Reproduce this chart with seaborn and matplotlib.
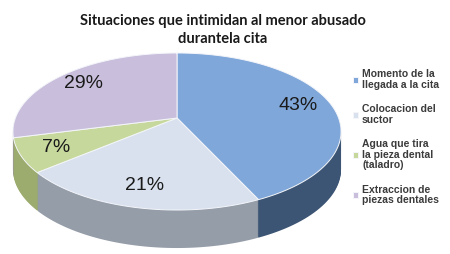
import matplotlib
matplotlib.use("Agg")
import numpy as np
import matplotlib.pyplot as plt
from matplotlib.path import Path
from matplotlib.transforms import Transform
import seaborn as sns

# data
categories = ["Momento de la\nllegada a la cita",
              "Colocacion del\nsuctor",
              "Agua que tira\nla pieza dental\n(taladro)",
              "Extraccion de\npiezas dentales"]
values = [43, 21, 7, 29]
top_colors = ["#80a7d9", "#d9e1ee", "#c6d89b", "#c9bfdc"]
side_colors = ["#3d5574", "#959da8", "#9cab6e", "#9a90ae"]
title = "Situaciones que intimidan al menor abusado\ndurantela cita"


class Tilt(Transform):
    """Perspective view of the unit disc, so the pie looks tilted like the 3d Excel one."""
    input_dims = output_dims = 2

    def __init__(self, cx, cy, sx, sy, e):
        super().__init__()
        self.cx, self.cy, self.sx, self.sy, self.e = cx, cy, sx, sy, e

    def transform_non_affine(self, xy):
        xy = np.asarray(xy, dtype=float)
        w = 1 + self.e * xy[..., 1]
        return np.stack([self.cx + self.sx * xy[..., 0] / w,
                         self.cy + self.sy * xy[..., 1] / w], axis=-1)

    def transform_path_non_affine(self, path):
        pts = []
        for bez, code in path.iter_bezier():
            pts.append(bez(np.linspace(0, 1, 24)))
        pts = np.concatenate(pts)
        codes = np.full(len(pts), Path.LINETO, dtype=Path.code_type)
        codes[0] = Path.MOVETO
        return Path(self.transform_non_affine(pts), codes)

    def inverted(self):
        raise NotImplementedError


sns.set_theme(style="white")
plt.rcParams["font.family"] = ["Liberation Sans", "DejaVu Sans"]

W, H = 450, 254
fig = plt.figure(figsize=(W / 100, H / 100), dpi=100)
ax = fig.add_axes([0, 0, 1, 1])

# pixel geometry of the tilted pie (y up)
cx, cy, sx, sy, e, depth = 177, H - 118, 161.6, 76.2, 0.172, 38

# side of the cylinder: stack of darker pies
for d in range(depth, 0, -1):
    side, _ = ax.pie(values, colors=side_colors, startangle=90, counterclock=False,
                     wedgeprops=dict(linewidth=0), frame=True)
    tr = Tilt(cx, cy - d, sx, sy, e) + ax.transData
    for wdg in side:
        wdg.set_transform(tr)

wedges, texts, autotexts = ax.pie(
    values, colors=top_colors, startangle=90, counterclock=False,
    autopct="%d%%", pctdistance=0.79,
    wedgeprops=dict(linewidth=0.7, edgecolor="#f4f6fa"),
    textprops=dict(fontsize=14, color="#1a1a1a"), frame=True)
top = Tilt(cx, cy, sx, sy, e)
for wdg in wedges:
    wdg.set_transform(top + ax.transData)
for t in autotexts:
    t.set_position(top.transform(np.array(t.get_position())))

ax.set_aspect("auto")
ax.set_xlim(0, W)
ax.set_ylim(0, H)
ax.axis("off")

fig.text(0.495, 0.945, title, ha="center", va="top", fontsize=10.5,
         fontweight="bold", color="#1a1a1a", family=["Lato", "DejaVu Sans"],
         linespacing=1.35)

leg = ax.legend(wedges, categories, loc="upper left",
                bbox_to_anchor=(349 / W, 1 - 65 / H), frameon=False,
                prop=dict(size=7.5, weight="bold"), labelcolor="#3b3b3b",
                handlelength=0.5, handleheight=0.5, handletextpad=0.35,
                labelspacing=1.4, borderaxespad=0)
for t in leg.get_texts():
    t.set_linespacing(1.05)

fig.savefig("out.png", dpi=100)
